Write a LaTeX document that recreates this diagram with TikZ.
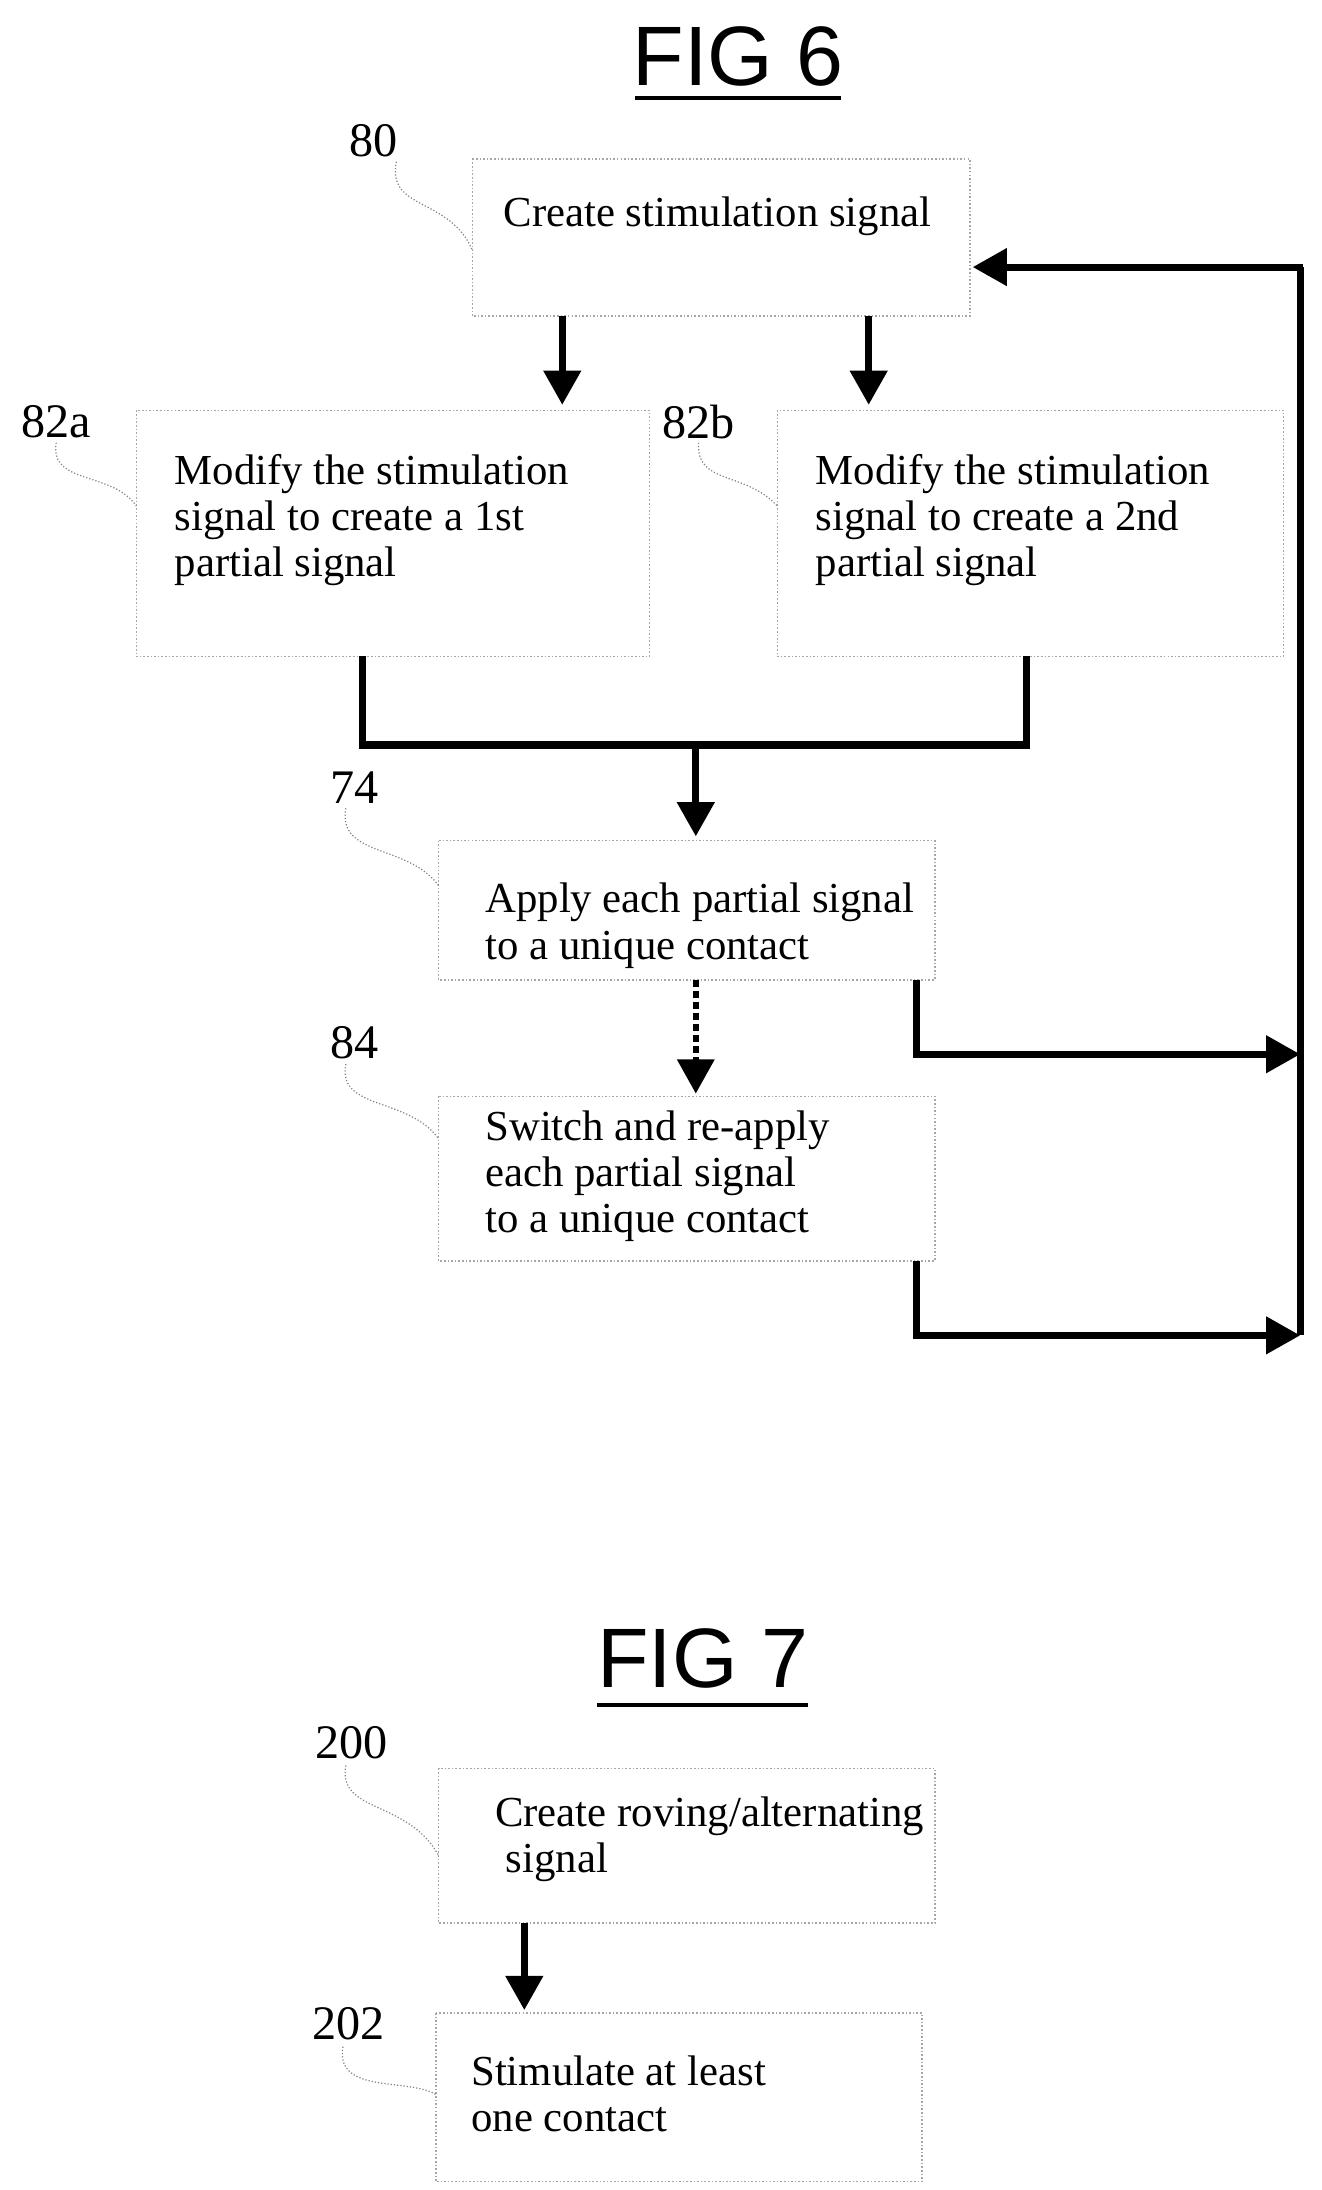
\documentclass[tikz,border=0pt]{standalone}
\usepackage{fontspec}
\setmainfont{Liberation Serif}
\setsansfont{Liberation Sans}
\usetikzlibrary{arrows.meta}
\begin{document}
\begin{tikzpicture}[x=0.7pt,y=-0.7pt,
  box/.style={draw=gray!70,densely dotted,line width=0.8pt},
  txt/.style={anchor=north west,align=left,font=\fontsize{21.3}{23}\selectfont,inner sep=0pt},
  lab/.style={font=\fontsize{24}{26}\selectfont,inner sep=0pt},
  lead/.style={draw=gray,densely dotted,line width=0.6pt},
  arr/.style={line width=3.5pt,-{Triangle[length=17pt,width=18pt]}},
  ln/.style={line width=3.5pt},
  ttl/.style={font=\sffamily\fontsize{42}{46}\selectfont,inner sep=0pt}]
\useasboundingbox (0,0) rectangle (940,1558);
% titles
\node[ttl] (t6) at (525,40) {FIG 6};
\draw[line width=2pt] (452,70) -- (598,70);
\node[ttl] (t7) at (500,1180) {FIG 7};
\draw[line width=2pt] (425,1213) -- (575,1213);
% boxes
\draw[box] (336,113) rectangle (690,225); \coordinate (b80) at (336,178);
\node[txt] (x80) at (358,140) {Create stimulation signal};
\draw[box] (97,292) rectangle (462,467); \coordinate (b82a) at (97,360);
\node[txt] (x82a) at (124,323) {Modify the stimulation\\signal to create a 1st\\partial signal};
\draw[box] (553,292) rectangle (913,467); \coordinate (b82b) at (553,360);
\node[txt] (x82b) at (580,323) {Modify the stimulation\\signal to create a 2nd\\partial signal};
\draw[box] (312,598) rectangle (665,697); \coordinate (b74) at (312,630);
\node[txt] (x74) at (345,628) {Apply each partial signal\\to a unique contact};
\draw[box] (312,780) rectangle (665,897); \coordinate (b84) at (312,810);
\node[txt] (x84) at (345,790) {Switch and re-apply\\each partial signal\\to a unique contact};
\draw[box] (312,1258) rectangle (665,1368); \coordinate (b200) at (312,1320);
\node[txt] (x200) at (352,1278) {Create roving/alternating\\\ signal};
\draw[box] (310,1432) rectangle (656,1552); \coordinate (b202) at (310,1490);
\node[txt] (x202) at (335,1462) {Stimulate at least\\one contact};
% labels and leaders
\node[lab] (l80) at (266,100) {80};
\draw[lead] (282,115) .. controls (275,150) and (320,140) .. (b80);
\node[lab] (l82a) at (40,300) {82a};
\draw[lead] (40,315) .. controls (35,345) and (80,335) .. (b82a);
\node[lab] (l82b) at (497,300) {82b};
\draw[lead] (497,315) .. controls (495,345) and (530,335) .. (b82b);
\node[lab] (l74) at (252,560) {74};
\draw[lead] (246,575) .. controls (240,610) and (290,600) .. (b74);
\node[lab] (l84) at (252,742) {84};
\draw[lead] (246,757) .. controls (240,790) and (290,780) .. (b84);
\node[lab] (l200) at (250,1240) {200};
\draw[lead] (246,1256) .. controls (240,1290) and (290,1280) .. (b200);
\node[lab] (l202) at (248,1440) {202};
\draw[lead] (244,1456) .. controls (238,1490) and (290,1478) .. (b202);
% arrows
\draw[arr] (400,225) -- (400,288);
\draw[arr] (618,225) -- (618,288);
\draw[ln] (258,467) -- (258,530) -- (730,530) -- (730,467);
\draw[arr] (495,530) -- (495,595);
\draw[arr,dotted,line width=3pt] (495,697) -- (495,778);
\draw[arr] (652,697) -- (652,750) -- (925,750);
\draw[arr] (652,897) -- (652,950) -- (925,950);
\draw[ln] (925,950) -- (925,190);
\draw[arr] (927,190) -- (692,190);
\draw[arr] (373,1368) -- (373,1430);
\end{tikzpicture}
\end{document}
